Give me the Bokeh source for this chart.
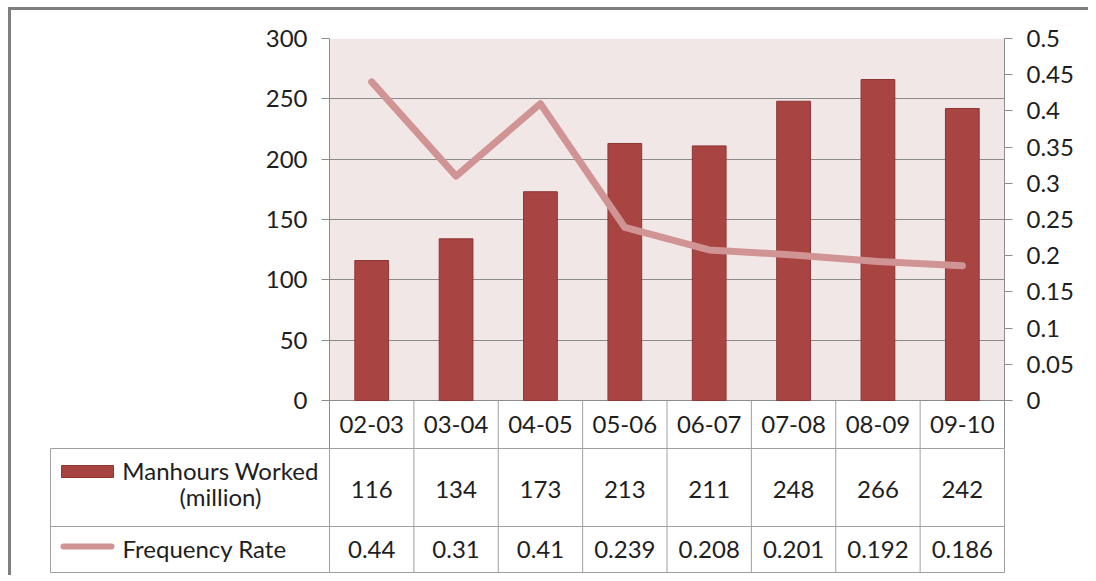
from bokeh.plotting import figure
from bokeh.models import (FactorRange, Range1d, LinearAxis, FixedTicker,
                          CustomJSTickFormatter, BoxAnnotation, ColumnDataSource)
from bokeh.layouts import column
from bokeh.embed import file_html
from bokeh.resources import INLINE
from bokeh.core.properties import value

# ---------------- data ----------------
categories = ["02-03", "03-04", "04-05", "05-06", "06-07", "07-08", "08-09", "09-10"]
manhours = [116, 134, 173, 213, 211, 248, 266, 242]
freq_rate = [0.44, 0.31, 0.41, 0.239, 0.208, 0.201, 0.192, 0.186]
manhours_labels = ["116", "134", "173", "213", "211", "248", "266", "242"]
rate_labels = ["0.44", "0.31", "0.41", "0.239", "0.208", "0.201", "0.192", "0.186"]
left_ticks = [0, 50, 100, 150, 200, 250, 300]
right_ticks = [0, 0.05, 0.1, 0.15, 0.2, 0.25, 0.3, 0.35, 0.4, 0.45, 0.5]
series1_lines = ["Manhours Worked", "(million)"]
series2_name = "Frequency Rate"

# ---------------- style ----------------
FONT = "Lato"
FS = "24px"
TXT = "#1e1e1e"
BAR = "#a84543"
BAR_EDGE = "#8e3634"
LINE = "#d19494"
BG = "#f2e7e7"
GRID = "#8c8c8c"
TABLE = "#a0a0a0"

PLOT_PX = 362.0   # height of 0..300 region
CAT_PX = 48.0     # category row height
ymax = left_ticks[-1]
ybot = -CAT_PX * ymax / PLOT_PX
rmax = right_ticks[-1]
rbot = ybot * rmax / ymax

# ---------------- chart ----------------
p = figure(width=1077, height=438,
           x_range=FactorRange(*categories),
           y_range=Range1d(ybot, ymax),
           x_axis_location=None, y_axis_location="left",
           min_border_left=318, min_border_right=84,
           min_border_top=28, min_border_bottom=0,
           output_backend="svg", toolbar_location=None,
           outline_line_color=None, background_fill_color="white",
           border_fill_color="white", frame_align=False)
p.extra_y_ranges = {"rate": Range1d(rbot, rmax)}

p.add_layout(BoxAnnotation(bottom=0, top=ymax, fill_color=BG, fill_alpha=1.0,
                           line_color=None, level="image"))

p.xgrid.visible = False
p.ygrid.ticker = FixedTicker(ticks=left_ticks)
p.ygrid.grid_line_color = GRID
p.ygrid.grid_line_width = 1

ax = p.yaxis[0]
ax.ticker = FixedTicker(ticks=left_ticks)
ax.axis_line_color = GRID
ax.major_tick_line_color = GRID
ax.major_tick_out = 8
ax.major_tick_in = 0
ax.minor_tick_line_color = None
ax.major_label_text_font = FONT
ax.major_label_text_font_size = FS
ax.major_label_text_color = TXT
ax.major_label_standoff = 14

rax = LinearAxis(y_range_name="rate", ticker=FixedTicker(ticks=right_ticks),
                 formatter=CustomJSTickFormatter(code="""
                    var s = tick.toFixed(2);
                    s = s.replace(/0+$/, '').replace(/\\.$/, '');
                    return s;"""))
rax.axis_line_color = GRID
rax.major_tick_line_color = GRID
rax.major_tick_out = 8
rax.major_tick_in = 0
rax.minor_tick_line_color = None
rax.major_label_text_font = FONT
rax.major_label_text_font_size = FS
rax.major_label_text_color = TXT
rax.major_label_standoff = 14
p.add_layout(rax, "right")

src = ColumnDataSource(dict(cat=categories, mh=manhours, fr=freq_rate))
p.vbar(x="cat", top="mh", bottom=0, width=0.4, source=src,
       fill_color=BAR, line_color=BAR_EDGE, line_width=1)
p.line(x="cat", y="fr", source=src, y_range_name="rate",
       line_color=LINE, line_width=7, line_join="round", line_cap="round")

# category row (inside the chart frame, below zero)
p.text(x=categories, y=[ybot / 2] * len(categories), text=categories,
       text_font=value(FONT), text_font_size=FS, text_color=TXT,
       text_align="center", text_baseline="middle")
seps = list(range(1, len(categories)))
p.segment(x0=seps, x1=seps, y0=[ybot] * len(seps), y1=[0] * len(seps),
          line_color=TABLE, line_width=1)

# ---------------- data table ----------------
n = len(categories)
col_w = 675.0 / n
LEG_W = 279.0
t = figure(width=1077, height=127,
           x_range=Range1d(-LEG_W, n * col_w), y_range=Range1d(0, 124),
           x_axis_location=None, y_axis_location=None,
           min_border_left=39, min_border_right=84,
           min_border_top=0, min_border_bottom=3,
           output_backend="svg", toolbar_location=None,
           outline_line_color=TABLE, outline_line_width=1,
           background_fill_color="white", border_fill_color="white",
           frame_align=False)
t.xgrid.visible = False
t.ygrid.visible = False

xs_c = [(i + 0.5) * col_w for i in range(n)]
# grid lines of table
vx = [i * col_w for i in range(n)]
t.segment(x0=vx, x1=vx, y0=[0] * n, y1=[124] * n, line_color=TABLE, line_width=1)
t.segment(x0=[-LEG_W], x1=[n * col_w], y0=[46], y1=[46], line_color=TABLE, line_width=1)

# values
t.text(x=xs_c, y=[83] * n, text=manhours_labels, text_font=value(FONT),
       text_font_size=FS, text_color=TXT, text_align="center", text_baseline="middle")
t.text(x=xs_c, y=[23] * n, text=rate_labels, text_font=value(FONT),
       text_font_size=FS, text_color=TXT, text_align="center", text_baseline="middle")

# legend keys
t.rect(x=[-242], y=[101], width=52, height=12, width_units="screen",
       height_units="screen", fill_color=BAR, line_color=BAR_EDGE)
t.segment(x0=[-266], x1=[-218], y0=[26], y1=[26], line_color=LINE, line_width=6,
          line_cap="round")
t.text(x=[-109, -109], y=[102, 76], text=series1_lines, text_font=value(FONT),
       text_font_size=FS, text_color=TXT, text_align="center", text_baseline="middle")
t.text(x=[-207], y=[24], text=[series2_name], text_font=value(FONT),
       text_font_size=FS, text_color=TXT, text_align="left", text_baseline="middle")

layout = column(p, t, styles={"border-left": "3px solid #7f7f7f",
                              "border-top": "3px solid #7f7f7f",
                              "border-right": "none", "border-bottom": "none",
                              "margin-left": "8px", "margin-top": "7px"})

open("out.html", "w").write(file_html(layout, INLINE))
